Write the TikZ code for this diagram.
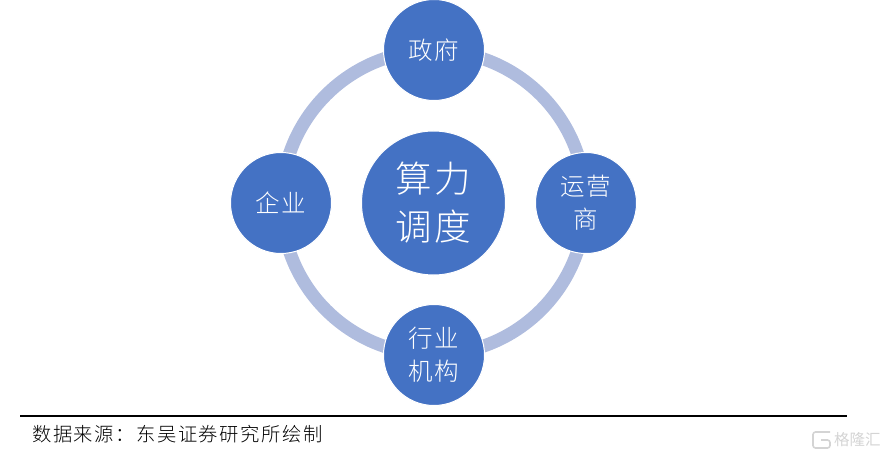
\documentclass[tikz,border=0pt]{standalone}
\usepackage{fontspec}
\setmainfont{Noto Sans CJK SC}
\newfontfamily\spaced[LetterSpace=8]{Noto Sans CJK SC}
\newfontfamily\spacedlight[LetterSpace=8]{Noto Sans CJK SC Light}
\definecolor{nodeblue}{HTML}{4472C4}
\definecolor{ringblue}{HTML}{AFBCDE}
\definecolor{markgrey}{HTML}{D4D4D4}
\tikzset{
  px/.style={x=1pt,y=-1pt},
  ball/.style={circle,fill=nodeblue,draw=white,line width=1pt,text=white,minimum size=101pt,inner sep=0pt,align=center,font=\spacedlight\fontsize{24.5}{33}\selectfont},
  bigball/.style={ball,minimum size=144pt,font=\spacedlight\fontsize{36.5}{48}\selectfont},
  ring/.style={draw=ringblue,line width=13pt}
}
\begin{document}
\begin{tikzpicture}[px]
\useasboundingbox (0,0) rectangle (886,457);
\coordinate (c) at (433.5,202.5);
\draw[ring] (c) circle (152);
\node[bigball] (mid) at (433.5,203) {算力\\调度};
\node[ball] (top) at (434,50) {政府};
\node[ball] (right) at (586,203) {运营\\商};
\node[ball] (bottom) at (434,355) {行业\\机构};
\node[ball] (left) at (281,203) {企业};
\coordinate (ruleL) at (20,416);
\coordinate (ruleR) at (847,416);
\draw[line width=2pt,black] (ruleL) -- (ruleR);
\node[anchor=west,inner sep=0pt,font=\spacedlight\fontsize{19.3}{22}\selectfont] (src) at (32,434) {数据来源：东吴证券研究所绘制};
\draw[markgrey,line width=1.6pt,rounded corners=2.5pt] (830,432) -- (813,432) -- (813,448) -- (830,448) -- (830,440) -- (821,440);
\node[anchor=west,inner sep=0pt,text=markgrey,font=\fontsize{15.5}{16}\selectfont] (mark) at (834,440) {格隆汇};
\end{tikzpicture}
\end{document}
